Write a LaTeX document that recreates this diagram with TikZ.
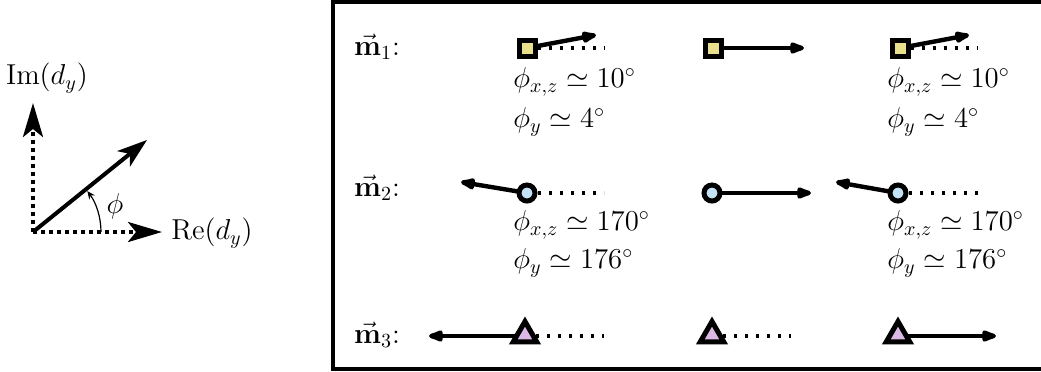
\documentclass[tikz,border=0pt]{standalone}
\usepackage{amsmath}
\usetikzlibrary{arrows.meta,shapes.geometric}
\definecolor{sqyellow}{HTML}{E8E08C}
\definecolor{circblue}{HTML}{C4E2F6}
\definecolor{trililac}{HTML}{DCB8E6}

\begin{document}
\begin{tikzpicture}[
  x=0.5pt, y=-0.5pt,
  font=\fontsize{14}{17}\selectfont,
  axis/.style={line width=2pt, dash pattern=on 2pt off 2pt, -{Stealth[length=17pt, width=10pt, inset=4pt]}},
  phase/.style={line width=2pt, -{Stealth[length=15pt, width=10pt, inset=4pt]}},
  spin/.style={line width=2.2pt, -{Latex[length=11pt, width=7pt, round]}},
  refline/.style={line width=1.8pt, dash pattern=on 1.5pt off 4pt},
  sqmark/.style={rectangle, draw, line width=2.5pt, fill=sqyellow, minimum size=8pt, inner sep=0pt},
  circmark/.style={circle, draw, line width=2.5pt, fill=circblue, minimum size=8pt, inner sep=0pt},
  trimark/.style={regular polygon, regular polygon sides=3, draw, line width=2.5pt, fill=trililac, minimum size=13.5pt, inner sep=0pt, line join=miter},
  angtext/.style={anchor=west, inner sep=0pt}
]
  \useasboundingbox (0,0) rectangle (1041,371);

  % complex plane sketch
  \coordinate (O) at (33,232);
  \coordinate (imtip) at (33,103);
  \coordinate (retip) at (162,232);
  \coordinate (dtip) at (147,140);
  \draw[axis] (O) -- (imtip);
  \draw[axis] (O) -- (retip);
  \draw[phase] (O) -- (dtip);
  \draw[line width=0.6pt, -{Stealth[length=4pt, width=3.5pt]}] ([shift={(68,0)}]O) arc[start angle=0, end angle=-37, radius=68];
  \node (im) at (47,78) {$\mathrm{Im}(d_y)$};
  \node (re) at (212,233) {$\mathrm{Re}(d_y)$};
  \node (phi) at (115,206) {$\phi$};

  % frame
  \begin{scope}
    \clip (0,0) rectangle (1041,371);
    \draw[line width=2pt] (333,2) rectangle (1050,369);
  \end{scope}

  % row labels
  \node (lab1) at (377,47) {$\vec{\mathbf{m}}_1{:}$};
  \node (lab2) at (377,188) {$\vec{\mathbf{m}}_2{:}$};
  \node (lab3) at (377,335) {$\vec{\mathbf{m}}_3{:}$};

  % row 1
  \coordinate (t11) at (596,35);
  \coordinate (d11) at (604,48);
  \coordinate (t12) at (804,48);
  \coordinate (t13) at (969,35);
  \coordinate (d13) at (978,48);
  \node[sqmark] (s11) at (527,48) {};
  \node[sqmark] (s12) at (713,48) {};
  \node[sqmark] (s13) at (900,48) {};
  \draw[refline] (s11) -- (d11);
  \draw[refline] (s13) -- (d13);
  \draw[spin] (s11) -- (t11);
  \draw[spin] (s12) -- (t12);
  \draw[spin] (s13) -- (t13);
  \node[sqmark] at (s11) {};
  \node[sqmark] at (s13) {};
  \node[angtext] (a11) at (513,82) {$\phi_{x,z} \simeq 10^\circ$};
  \node[angtext] (b11) at (513,122) {$\phi_{y} \simeq 4^\circ$};
  \node[angtext] (a13) at (887,82) {$\phi_{x,z} \simeq 10^\circ$};
  \node[angtext] (b13) at (887,122) {$\phi_{y} \simeq 4^\circ$};

  % row 2
  \coordinate (t21) at (461,182);
  \coordinate (d21) at (604,193);
  \coordinate (t22) at (811,193);
  \coordinate (t23) at (836,182);
  \coordinate (d23) at (978,193);
  \draw[refline] (527,193) -- (d21);
  \draw[refline] (898,193) -- (d23);
  \draw[spin] (527,193) -- (t21);
  \draw[spin] (712,193) -- (t22);
  \draw[spin] (898,193) -- (t23);
  \node[circmark] (c21) at (527,193) {};
  \node[circmark] (c22) at (712,193) {};
  \node[circmark] (c23) at (898,193) {};
  \node[angtext] (a21) at (513,225) {$\phi_{x,z} \simeq 170^\circ$};
  \node[angtext] (b21) at (513,263) {$\phi_{y} \simeq 176^\circ$};
  \node[angtext] (a23) at (887,225) {$\phi_{x,z} \simeq 170^\circ$};
  \node[angtext] (b23) at (887,263) {$\phi_{y} \simeq 176^\circ$};

  % row 3
  \coordinate (t31) at (429,336);
  \coordinate (d31) at (604,336);
  \coordinate (d32) at (791,336);
  \coordinate (t33) at (996,336);
  \draw[refline] (525,336) -- (d31);
  \draw[refline] (712,336) -- (d32);
  \draw[spin] (525,336) -- (t31);
  \draw[spin] (898,336) -- (t33);
  \node[trimark] (r31) at (525,335) {};
  \node[trimark] (r32) at (712,335) {};
  \node[trimark] (r33) at (898,335) {};
\end{tikzpicture}
\end{document}
